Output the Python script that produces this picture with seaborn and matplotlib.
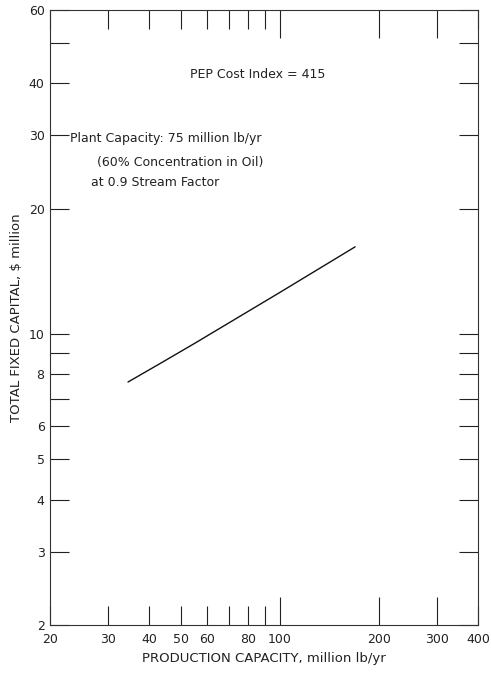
import matplotlib
matplotlib.use("Agg")
import matplotlib.pyplot as plt
import seaborn as sns
import pandas as pd

# values
capacity = [34.5, 44, 55, 100, 169]
capital = [7.67, 8.57, 9.5, 12.6, 16.2]

x_major = [100, 200, 300]
x_minor = [20, 30, 40, 50, 60, 70, 80, 90, 400]
x_minor_labels = ["20", "30", "40", "50", "60", "", "80", "", "400"]
y_ticks = [2, 3, 4, 5, 6, 7, 8, 9, 10, 20, 30, 40, 50, 60]
y_labels = ["2", "3", "4", "5", "6", "", "8", "", "10", "20", "30", "40", "", "60"]

sns.set_theme(style="white")
plt.rcParams["font.family"] = ["DejaVu Sans"]

fig = plt.figure(figsize=(4.91, 6.75), dpi=100)
ax = fig.add_axes([0.102, 0.074, 0.872, 0.911])

df = pd.DataFrame({"capacity": capacity, "capital": capital})
sns.lineplot(data=df, x="capacity", y="capital", color="#111111", linewidth=1.0, ax=ax)

ax.set_xscale("log")
ax.set_yscale("log")
ax.set_xlim(20, 400)
ax.set_ylim(2, 60)

ax.set_xticks(x_major)
ax.set_xticklabels([str(v) for v in x_major])
ax.set_xticks(x_minor, minor=True)
ax.set_xticklabels(x_minor_labels, minor=True)
ax.set_yticks(y_ticks)
ax.set_yticklabels(y_labels)
ax.set_yticks([], minor=True)

ax.tick_params(axis="x", which="major", direction="in", length=20, width=0.8,
               top=True, bottom=True, labelsize=9, pad=6, colors="#222222")
ax.tick_params(axis="x", which="minor", direction="in", length=14, width=0.8,
               top=True, bottom=True, labelsize=9, pad=6, colors="#222222")
ax.tick_params(axis="y", which="major", direction="in", length=14, width=0.8,
               left=True, right=True, labelsize=9, pad=4, colors="#222222")

for s in ax.spines.values():
    s.set_color("#333333")
    s.set_linewidth(0.8)

ax.set_xlabel("PRODUCTION CAPACITY, million lb/yr", fontsize=9.5, color="#222222", labelpad=4)
ax.set_ylabel("TOTAL FIXED CAPITAL, $ million", fontsize=9.5, color="#222222", labelpad=4)

ax.text(0.486, 0.896, "PEP Cost Index = 415", transform=ax.transAxes,
        ha="center", va="center", fontsize=9, color="#222222")
ax.text(0.047, 0.792, "Plant Capacity: 75 million lb/yr", transform=ax.transAxes,
        ha="left", va="center", fontsize=9, color="#222222")
ax.text(0.110, 0.753, "(60% Concentration in Oil)", transform=ax.transAxes,
        ha="left", va="center", fontsize=9, color="#222222")
ax.text(0.096, 0.719, "at 0.9 Stream Factor", transform=ax.transAxes,
        ha="left", va="center", fontsize=9, color="#222222")

fig.savefig("out.png", dpi=100)
